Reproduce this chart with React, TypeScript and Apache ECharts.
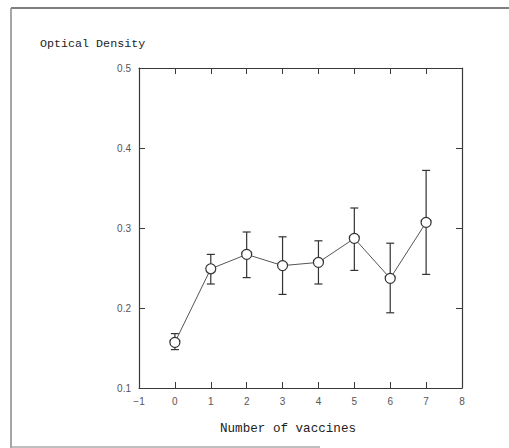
import React, { useEffect, useRef } from "react";
import * as echarts from "echarts";

const vaccines = [0, 1, 2, 3, 4, 5, 6, 7];
const meanOD = [0.157, 0.249, 0.267, 0.253, 0.257, 0.287, 0.237, 0.307];
const upperOD = [0.168, 0.267, 0.295, 0.289, 0.284, 0.325, 0.281, 0.372];
const lowerOD = [0.148, 0.230, 0.238, 0.217, 0.230, 0.247, 0.194, 0.242];

const axisColor = "#3a3a3a";
const labelColor = "#555";

export default function App() {
  const ref = useRef<HTMLDivElement>(null);
  useEffect(() => {
    if (!ref.current) return;
    const chart = echarts.init(ref.current, null, { renderer: "svg" });
    const lineData = vaccines.map((v, i) => [v, meanOD[i]]);
    const errData = vaccines.map((v, i) => [v, lowerOD[i], upperOD[i]]);
    const baseX = {
      type: "value",
      min: -1,
      max: 8,
      interval: 1,
      splitLine: { show: false },
      axisLine: { show: true, onZero: false, lineStyle: { color: axisColor, width: 1.2 } },
      axisTick: { show: true, inside: true, length: 6, lineStyle: { color: axisColor } },
    };
    const baseY = {
      type: "value",
      min: 0.1,
      max: 0.5,
      interval: 0.1,
      splitLine: { show: false },
      axisLine: { show: true, onZero: false, lineStyle: { color: axisColor, width: 1.2 } },
      axisTick: { show: true, inside: true, length: 6, lineStyle: { color: axisColor } },
    };
    chart.setOption({
      animation: false,
      backgroundColor: "#fff",
      grid: { left: 139, right: 47, top: 68, bottom: 60, containLabel: false },
      xAxis: [
        {
          ...baseX,
          position: "bottom",
          axisLabel: {
            color: labelColor,
            fontSize: 10,
            fontFamily: "Liberation Sans",
            margin: 8,
            formatter: (v: number) => (v < 0 ? "\u2212" + Math.abs(v) : String(v)),
          },
        },
        { ...baseX, position: "top", axisLabel: { show: false } },
      ],
      yAxis: [
        {
          ...baseY,
          position: "left",
          axisLabel: {
            color: labelColor,
            fontSize: 10,
            fontFamily: "Liberation Sans",
            margin: 8,
            formatter: (v: number) => v.toFixed(1),
          },
        },
        { ...baseY, position: "right", axisLabel: { show: false } },
      ],
      graphic: [
        { type: "line", shape: { x1: 11, y1: 8, x2: 509, y2: 8 }, style: { stroke: "#555", lineWidth: 1.5 } },
        { type: "line", shape: { x1: 11, y1: 8, x2: 11, y2: 448 }, style: { stroke: "#888", lineWidth: 1.5 } },
        { type: "line", shape: { x1: 11, y1: 447, x2: 320, y2: 447 }, style: { stroke: "#aaa", lineWidth: 1.5 } },
        {
          type: "text",
          left: 40,
          top: 38,
          style: { text: "Optical Density", fill: "#222", fontSize: 11.7, fontFamily: "Liberation Mono" },
        },
        {
          type: "text",
          x: 288,
          y: 429,
          style: {
            text: "Number of vaccines",
            fill: "#222",
            fontSize: 12.6,
            fontFamily: "Liberation Mono",
            align: "center",
            verticalAlign: "middle",
          },
        },
      ],
      series: [
        {
          type: "custom",
          xAxisIndex: 0,
          yAxisIndex: 0,
          data: errData,
          z: 1,
          renderItem: (params: any, api: any) => {
            const x = api.value(0);
            const lo = api.coord([x, api.value(1)]);
            const hi = api.coord([x, api.value(2)]);
            const cap = 4;
            const st = { stroke: "#333", lineWidth: 1.2 };
            return {
              type: "group",
              children: [
                { type: "line", shape: { x1: lo[0], y1: lo[1], x2: hi[0], y2: hi[1] }, style: st },
                { type: "line", shape: { x1: lo[0] - cap, y1: lo[1], x2: lo[0] + cap, y2: lo[1] }, style: st },
                { type: "line", shape: { x1: hi[0] - cap, y1: hi[1], x2: hi[0] + cap, y2: hi[1] }, style: st },
              ],
            };
          },
        },
        {
          type: "line",
          xAxisIndex: 0,
          yAxisIndex: 0,
          data: lineData,
          z: 2,
          symbol: "circle",
          symbolSize: 10,
          lineStyle: { color: "#555", width: 1 },
          itemStyle: { color: "#fff", borderColor: "#333", borderWidth: 1.2 },
        },
      ],
    });
    return () => chart.dispose();
  }, []);
  return <div ref={ref} style={{ width: 509, height: 448, position: "absolute", left: 0, top: 0 }} />;
}
